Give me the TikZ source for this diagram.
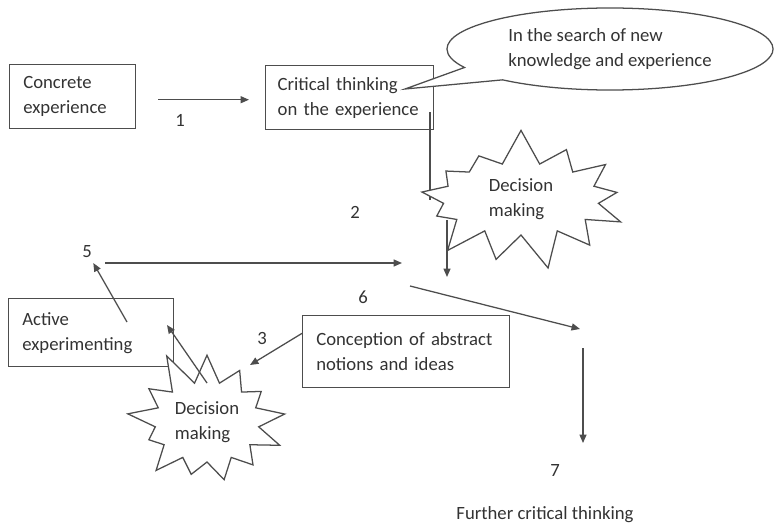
\documentclass[tikz,border=0pt]{standalone}
\usepackage{fontspec}
\setmainfont{Carlito}
\usetikzlibrary{arrows.meta,shapes.symbols,shapes.callouts}
\definecolor{linegray}{HTML}{4D4D4D}
\definecolor{textgray}{HTML}{333333}
\begin{document}
\begin{tikzpicture}[x=0.025cm,y=-0.025cm,
  >={Triangle[length=6pt,width=5pt]},
  every node/.style={text=textgray,font=\fontsize{13.3}{17.8}\selectfont},
  stagebox/.style={draw=linegray,line width=1pt,align=left,anchor=north west,inner xsep=0.34cm},
  burst/.style={starburst,draw=linegray,line width=0.9pt,fill=white,align=left,starburst points=13,starburst point height=0.9cm},
  link/.style={draw=linegray,line width=0.9pt}]
\useasboundingbox (0,0) rectangle (774,526);
\coordinate (TAIL) at (405,89); % bubble tip
\coordinate (CD) at (430,112); % drop from box
\coordinate (DE) at (447,277); % drop end
\coordinate (HS) at (105,263); % left of 5
\coordinate (HE) at (402,263); % right end
\coordinate (US) at (127,322); % up to 5
\coordinate (SS) at (410,286); % slant start
\coordinate (SE) at (580,329); % slant end
\coordinate (VS) at (583,348); % down to 7
\coordinate (VE) at (583,443);
\coordinate (TE) at (250,365); % arrow 3 end
\coordinate (BS) at (207,383); % burst to box
\coordinate (BE) at (167,325);
\node[stagebox,text width=2.47cm,minimum height=1.6cm] (concrete) at (9,64) {Concrete\\experience};
\node[stagebox,inner xsep=0.3cm,text width=3.6cm,minimum height=1.6cm] (critical) at (265,65) {Critical thinking\\on the experience};
\node[stagebox,text width=3.44cm,minimum height=1.7cm] (active) at (8,298) {Active\\experimenting};
\node[stagebox,text width=4.49cm,minimum height=1.8cm] (concept) at (302,315) {Conception of abstract\\notions and ideas};
\node[ellipse callout,draw=linegray,line width=0.9pt,fill=white,align=left,minimum width=8.15cm,minimum height=2.05cm,
  callout absolute pointer={(TAIL)},callout pointer arc=22] (search) at (610,49) {In the search of new\\knowledge and experience};
\draw[link,->] ([yshift=-0.075cm]concrete.east) -- ([yshift=-0.075cm]concrete.east -| critical.west) [shorten <=0.55cm,shorten >=0.4cm];
\node (n1) at (180,120) {1};
\node (n2) at (355,212) {2};
\node (n3) at (262,338) {3};
\node (n5) at (87,252) {5};
\node (n6) at (363,297) {6};
\node (n7) at (555,470) {7};
\node (further) at (545,515) {Further critical thinking};
\draw[link] (CD) -- (CD |- 0,200);
\draw[link,->] (DE |- 0,220) -- (DE);
\node[burst,minimum width=5.7cm,minimum height=3.6cm,random starburst=7] (dm1) at (521,199) {Decision\\making};
\node[burst,minimum width=4.1cm,minimum height=3.8cm,random starburst=11] (dm2) at (207,422) {Decision\\making};
\draw[link,->] (HS) -- (HE);
\draw[link,->] (US) -- (n5);
\draw[link,->] (SS) -- (SE);
\draw[link,->] (VS) -- (VE);
\draw[link,->] (concept.170) -- (TE);
\draw[link,->] (BS) -- (BE);
\end{tikzpicture}
\end{document}
